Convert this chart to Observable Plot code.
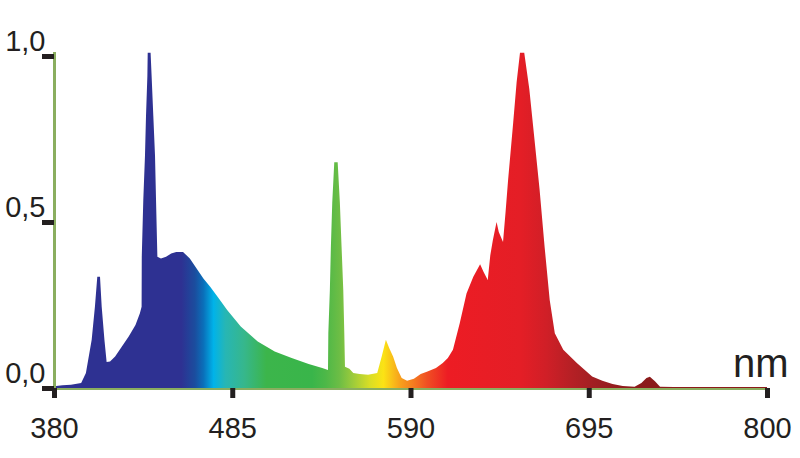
<!DOCTYPE html>
<html>
<head>
<meta charset="utf-8">
<script src="https://cdn.jsdelivr.net/npm/d3@7"></script>
<script src="https://cdn.jsdelivr.net/npm/@observablehq/plot@0.6"></script>
<style>
  html, body { margin: 0; padding: 0; background: #ffffff; }
  #chart { width: 800px; height: 458px; }
</style>
</head>
<body>
<div id="chart"></div>
<script>
// Wavelength (nm) samples
const wavelengths = [
  380, 385, 390, 396, 398.8, 402.2, 404.1, 405.5, 407.1, 408.1, 409.7, 411,
  413, 416, 420, 424, 428, 430.6, 431.6, 431.7, 432.6, 433.6, 434.2, 435, 435.2, 436.9,
  437.5, 438.5, 439.5, 440.1, 440.9,
  443, 446, 449, 452, 456, 460, 464, 468, 472, 477, 482, 490, 500, 510, 520, 530, 538,
  541.4, 541.6, 542.5, 543.1, 543.9, 545.1, 547.1, 548.4, 549.4, 550.4, 551, 551.4, 554, 556.3, 560, 565,
  570.4, 573, 575.5, 577.5, 579.8, 582, 584.8, 588, 592, 596, 600, 605, 609, 612,
  615, 619, 623, 627, 631, 633, 635.5, 637, 638.5, 640.7, 642, 644.5, 646, 647.5,
  650.5, 652.5, 654.5, 657, 660, 663, 666, 669, 672, 675, 680, 688, 697, 703, 709,
  715, 722, 726, 729, 731, 734, 737, 745, 800
];
// Relative intensity at each wavelength
const intensity = [
  0.005, 0.008, 0.010, 0.015, 0.045, 0.145, 0.245, 0.335, 0.335, 0.245, 0.145, 0.078,
  0.080, 0.095, 0.125, 0.155, 0.19, 0.225, 0.245, 0.395, 0.566, 0.70, 0.82, 0.94, 1.01, 1.01,
  0.94, 0.82, 0.70, 0.566, 0.395,
  0.39, 0.395, 0.405, 0.41, 0.41, 0.39, 0.36, 0.33, 0.305, 0.27, 0.235, 0.185, 0.14, 0.11, 0.09, 0.072, 0.06,
  0.054, 0.166, 0.295, 0.425, 0.557, 0.68, 0.68, 0.557, 0.425, 0.295, 0.166, 0.064, 0.058, 0.045, 0.042, 0.040,
  0.045, 0.094, 0.145, 0.12, 0.094, 0.06, 0.03, 0.022, 0.028, 0.042, 0.05, 0.06, 0.075, 0.09,
  0.115, 0.195, 0.285, 0.335, 0.373, 0.35, 0.325, 0.40, 0.445, 0.50, 0.47, 0.44, 0.53, 0.627,
  0.80, 0.92, 1.01, 1.01, 0.90, 0.75, 0.60, 0.425, 0.265, 0.165, 0.115, 0.075, 0.035, 0.022, 0.012,
  0.006, 0.004, 0.015, 0.03, 0.034, 0.02, 0.004, 0.003, 0.003
];
// Spectrum colour stops (wavelength, colour)
const stopWavelengths = [380, 455, 463, 468, 474, 481, 492, 505, 532, 540, 548, 556, 566, 574, 584, 592, 600, 612, 655, 670, 685, 700, 720, 800];
const stopColors = ["#2e3192", "#2e3192", "#1b4d9e", "#0a6fba", "#00b3e9", "#27b6b4", "#36b78c", "#3cb54b",
  "#39b54a", "#4db848", "#6cbd45", "#9ccb3b", "#d9de25", "#fbe315", "#f7a01c", "#f47a20", "#f04e23",
  "#ed1c24", "#e41e26", "#d01f27", "#b52025", "#9e1f22", "#8b1a1a", "#8b1a1a"];

const xTicks = [380, 485, 590, 695, 800];
const yTicks = [0, 0.5, 1];
const xDomain = [380, 800];
const yDomain = [0, 1];
const unitLabel = ["nm"];

const data = wavelengths.map((w, i) => ({w, v: intensity[i]}));
const axisGreen = "#8aae5f";
const ink = "#231f20";
const fmt = d => d.toFixed(1).replace(".", ",");

const gradientDefs = (index, scales) => {
  const x = scales.x;
  const x0 = x(xDomain[0]), x1 = x(xDomain[1]);
  const defs = d3.create("svg:defs");
  const lg = defs.append("linearGradient")
    .attr("id", "spectrum")
    .attr("gradientUnits", "userSpaceOnUse")
    .attr("x1", x0).attr("x2", x1).attr("y1", 0).attr("y2", 0);
  stopWavelengths.forEach((w, i) => {
    lg.append("stop")
      .attr("offset", (x(w) - x0) / (x1 - x0))
      .attr("stop-color", stopColors[i]);
  });
  return defs.node();
};

const chart = Plot.plot({
  width: 800,
  height: 458,
  marginLeft: 54,
  marginRight: 33,
  marginTop: 56,
  marginBottom: 70,
  style: {fontFamily: "'Liberation Sans', Arial, sans-serif", background: "#ffffff", overflow: "visible"},
  x: {domain: xDomain},
  y: {domain: yDomain},
  marks: [
    gradientDefs,
    Plot.ruleY([0], {stroke: axisGreen, strokeWidth: 3}),
    Plot.areaY(data, {x: "w", y: "v", fill: "url(#spectrum)", curve: "linear"}),
    Plot.ruleX([xDomain[0]], {y1: 0, y2: 1.012, stroke: axisGreen, strokeWidth: 3}),
    Plot.axisX({ticks: xTicks, tickSize: 10, tickPadding: 19, strokeWidth: 5, stroke: ink, fill: ink,
      fontSize: 29, tickFormat: d => String(d), label: null}),
    Plot.axisY({ticks: yTicks, tickSize: 12, strokeWidth: 5, stroke: ink, fill: "none", label: null}),
    Plot.axisY({ticks: yTicks, tickSize: 12, tickPadding: -3, dy: -15, stroke: "none", fill: ink,
      fontSize: 29, tickFormat: fmt, label: null}),
    Plot.text(unitLabel, {text: d => d, frameAnchor: "bottom-right", textAnchor: "end", lineAnchor: "bottom",
      dx: 21, dy: -12, fontSize: 40, fill: ink})
  ]
});
document.getElementById("chart").appendChild(chart);
</script>
</body>
</html>
